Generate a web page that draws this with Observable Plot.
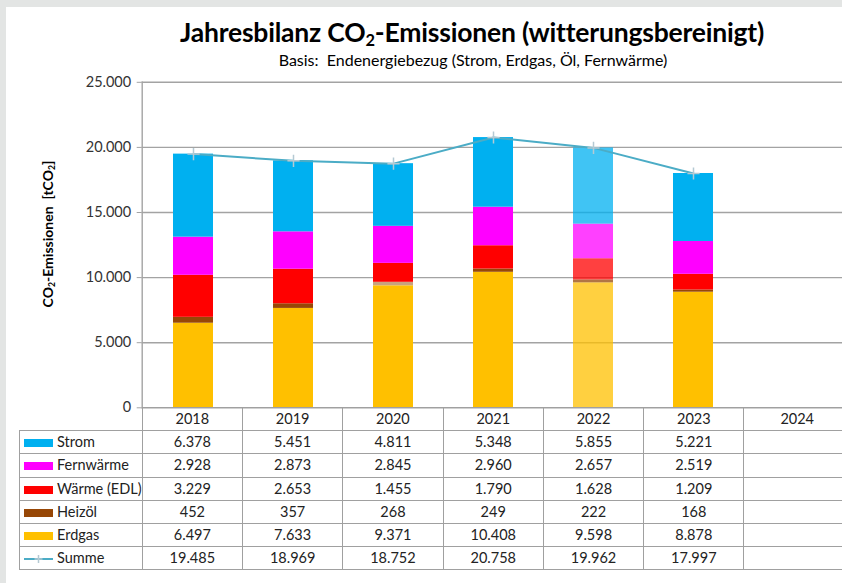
<!DOCTYPE html>
<html><head><meta charset="utf-8">
<script src="https://cdn.jsdelivr.net/npm/d3@7"></script>
<script src="https://cdn.jsdelivr.net/npm/@observablehq/plot@0.6"></script>
<style>
html,body{margin:0;padding:0;}
body{width:842px;height:583px;background:#e3e5e4;position:relative;overflow:hidden;font-family:Lato,"Open Sans",sans-serif;color:#1a1a1a;}
#panel{position:absolute;left:6px;top:7px;width:836px;height:576px;background:#fff;}
#title{position:absolute;left:0;width:944px;top:19px;text-align:center;font-size:26.5px;font-weight:bold;line-height:26px;white-space:nowrap;color:#000;letter-spacing:-0.2px;}
#subtitle{position:absolute;left:0;width:946px;top:52px;text-align:center;font-size:16px;line-height:16px;white-space:nowrap;color:#000;}
sub{font-size:0.62em;vertical-align:-0.25em;line-height:0;}
#chart{position:absolute;left:0;top:0;}
#ylabel{position:absolute;left:47px;top:234px;transform:translate(-50%,-50%) rotate(-90deg);font-size:14px;font-weight:bold;white-space:nowrap;color:#000;}
#tbl{position:absolute;left:19px;top:407px;border-collapse:collapse;table-layout:fixed;width:831px;}
#tbl td{border:1.5px solid #a0a0a0;padding:0;text-align:center;font-size:14.5px;height:22.2px;line-height:22px;white-space:nowrap;color:#222;}
#tbl td.blank{border-left:none;border-top:none;}
#tbl td.lab{text-align:left;padding-left:4px;}
.sw{display:inline-block;width:29px;height:8px;margin-right:4px;vertical-align:0px;}
</style></head>
<body>
<div id="panel"></div>
<div id="chart"></div>
<div id="title">Jahresbilanz CO<sub>2</sub>-Emissionen (witterungsbereinigt)</div>
<div id="subtitle">Basis:&nbsp; Endenergiebezug (Strom, Erdgas, Öl, Fernwärme)</div>
<div id="ylabel">CO<sub>2</sub>-Emissionen&nbsp; [tCO<sub>2</sub>]</div>
<table id="tbl"></table>
<script>
const years = ["2018","2019","2020","2021","2022","2023","2024"];
const seriesNames = ["Strom","Fernwärme","Wärme (EDL)","Heizöl","Erdgas"];
const strom = [6378,5451,4811,5348,5855,5221];
const fernwaerme = [2928,2873,2845,2960,2657,2519];
const waerme = [3229,2653,1455,1790,1628,1209];
const heizoel = [452,357,268,249,222,168];
const erdgas = [6497,7633,9371,10408,9598,8878];
const summe = [19485,18969,18752,20758,19962,17997];
const yTicks = [0,5000,10000,15000,20000,25000];
const seriesColors = ["#00B0F0","#FF00FF","#FF0000","#974706","#FFC000"];
const summeColor = "#4BACC6";
const fadedYear = "2022";

const values = {"Strom":strom,"Fernwärme":fernwaerme,"Wärme (EDL)":waerme,"Heizöl":heizoel,"Erdgas":erdgas};
const colorOf = Object.fromEntries(seriesNames.map((s,i)=>[s,seriesColors[i]]));

// stack from bottom: Erdgas, Heizöl, Wärme, Fernwärme, Strom
const stackOrder = ["Erdgas","Heizöl","Wärme (EDL)","Fernwärme","Strom"];
const stack = [];
years.forEach((y,i)=>{
  stackOrder.forEach(s=>{
    const v = values[s][i];
    if (v != null) stack.push({year:y, series:s, value:v});
  });
});
const sumData = summe.map((v,i)=>({year:years[i], value:v}));

const loc = d3.formatLocale({decimal:",", thousands:".", grouping:[3], currency:["","€"]});
const fmt = loc.format(",d");

const chart = Plot.plot({
  width: 842, height: 408,
  marginTop: 81.8, marginBottom: 0.7, marginLeft: 141.7, marginRight: 0,
  style: {fontFamily: "Lato, sans-serif", fontSize: "14px", color: "#333", background: "transparent", overflow: "visible"},
  x: {domain: years, range: [141.7, 843.7], paddingInner: 0.6, paddingOuter: 0.3, axis: null},
  y: {domain: [0, 25000], axis: null},
  color: {type: "identity"},
  opacity: {type: "identity"},
  marks: [
    Plot.ruleY(yTicks, {stroke: "#a3a3a3", strokeWidth: 1.4}),
    Plot.barY(stack, {
      x: "year", y: "value",
      fill: d => (d.year === "2020" && d.series === "Heizöl") ? "#C9A27E" : colorOf[d.series],
      fillOpacity: d => d.year === fadedYear ? 0.75 : 1
    }),
    Plot.lineY(sumData, {x: "year", y: "value", stroke: summeColor, strokeWidth: 2}),
    Plot.dot(sumData, {x: "year", y: "value", symbol: "plus", r: 4, stroke: "#b5c9d3", strokeWidth: 1.5}),
    Plot.axisY({ticks: yTicks, tickFormat: fmt, tickSize: 5, tickPadding: 6, stroke: "#a3a3a3", fill: "#333", fontSize: 14.5, label: null}),
    Plot.frame({anchor: "left", stroke: "#a3a3a3", strokeWidth: 1.4})
  ]
});
document.getElementById("chart").appendChild(chart);

// data table
const tbl = document.getElementById("tbl");
let html = '<colgroup><col style="width:122.7px">' + years.map((y,i)=>`<col style="width:${i===years.length-1?106.5:100.3}px">`).join("") + '</colgroup>';
html += '<tr><td class="blank"></td>' + years.map(y=>`<td>${y}</td>`).join("") + '</tr>';
seriesNames.forEach(s=>{
  html += `<tr><td class="lab"><span class="sw" style="background:${colorOf[s]}"></span>${s}</td>` +
    years.map((y,i)=>`<td>${values[s][i]!=null?fmt(values[s][i]):""}</td>`).join("") + '</tr>';
});
html += `<tr><td class="lab"><svg width="29" height="10" style="margin-right:4px;vertical-align:-1px"><line x1="0" y1="5" x2="29" y2="5" stroke="${summeColor}" stroke-width="2"/><path d="M10.5,5h8M14.5,1v8" stroke="#b5c9d3" stroke-width="1.5"/></svg>Summe</td>` +
  years.map((y,i)=>`<td>${summe[i]!=null?fmt(summe[i]):""}</td>`).join("") + '</tr>';
tbl.innerHTML = html;
</script>
</body></html>
